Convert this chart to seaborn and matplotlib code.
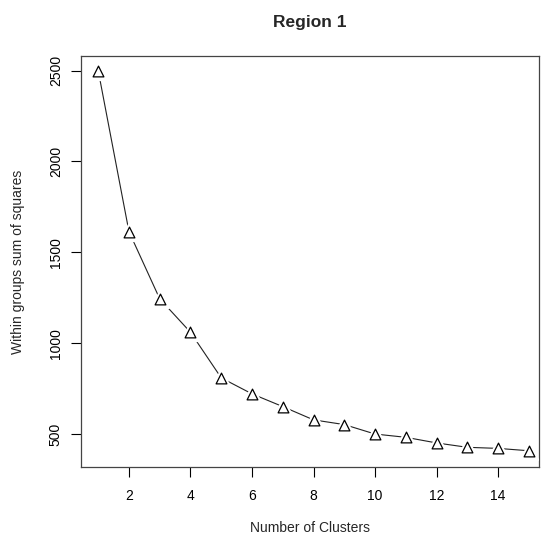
import matplotlib
matplotlib.use('Agg')
import matplotlib.pyplot as plt
import seaborn as sns
import pandas as pd

clusters = list(range(1, 16))
wss = [2500, 1614, 1244, 1060, 809, 721, 651, 578, 552, 500, 482, 451, 427, 421, 408]
x_ticks = [2, 4, 6, 8, 10, 12, 14]
y_ticks = [500, 1000, 1500, 2000, 2500]

sns.set_style('ticks')
plt.rcParams['font.family'] = ['Liberation Sans', 'DejaVu Sans']

df = pd.DataFrame({'k': clusters, 'wss': wss})

fig = plt.figure(figsize=(5.42, 5.44), dpi=100)
ax = fig.add_axes([0.1494, 0.142, 0.8451, 0.755])

# line, then white masks around points (R type="b" gaps), then open triangles
sns.lineplot(data=df, x='k', y='wss', color='#222222', linewidth=0.8, ax=ax)
sns.scatterplot(data=df, x='k', y='wss', marker='^', s=140, color='white',
                edgecolor='white', linewidth=2, ax=ax, zorder=3)
sns.scatterplot(data=df, x='k', y='wss', marker='^', s=60, facecolor='white',
                edgecolor='black', linewidth=0.9, ax=ax, zorder=4)

ax.set_xlim(0.44, 15.33)
ax.set_ylim(320, 2580)
ax.set_xticks(x_ticks)
ax.set_yticks(y_ticks)
ax.set_yticklabels([str(v) for v in y_ticks], rotation=90, va='center')
ax.tick_params(axis='both', length=7, width=0.8, labelsize=10, colors='black')
ax.tick_params(axis='x', pad=9)
ax.tick_params(axis='y', pad=6)

for s in ax.spines.values():
    s.set_visible(True)
    s.set_color('#444444')
    s.set_linewidth(0.9)

ax.set_xlabel('Number of Clusters', fontsize=10, labelpad=13)
ax.set_ylabel('Within groups sum of squares', fontsize=10, labelpad=17)
ax.set_title('Region 1', fontsize=12.5, fontweight='bold', pad=21)

fig.savefig('out.png', dpi=100)
